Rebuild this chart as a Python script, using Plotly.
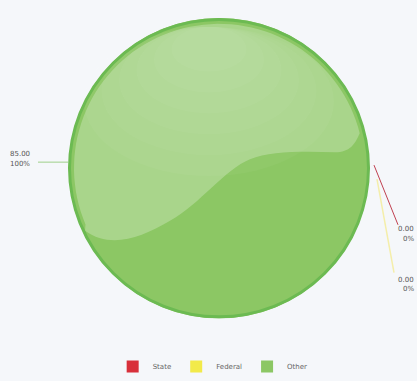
import numpy as np
import plotly.graph_objects as go

labels = ["State", "Federal", "Other"]
values = [0.0, 0.0, 85.0]
pct_text = ["0%", "0%", "100%"]
colors = ["#d8303a", "#f2ea4a", "#8cc764"]

W, H = 417, 381
cx, cy, r = 219, 169, 151

fig = go.Figure()
fig.add_trace(go.Pie(
    labels=labels, values=values, sort=False, direction="clockwise", rotation=90,
    marker=dict(colors=colors, line=dict(width=0)),
    textinfo="none", hoverinfo="label+value+percent",
    domain=dict(x=[(cx - r) / W, (cx + r) / W], y=[1 - (cy + r) / H, 1 - (cy - r) / H]),
    showlegend=True,
))
fig.update_xaxes(range=[0, W], visible=False, domain=[0, 1])
fig.update_yaxes(range=[H, 0], visible=False, domain=[0, 1])

# gloss highlight path (upper-left region)
ri = r - 6
ang = np.deg2rad(np.linspace(203, 14, 70))
arc = [(cx + ri * np.cos(a), cy - ri * np.sin(a)) for a in ang]
path = "M {:.1f},{:.1f} ".format(*arc[0]) + " ".join("L {:.1f},{:.1f}".format(x, y) for x, y in arc[1:])
path += " C 355,145 350,153 335,153 C 300,152 270,152 250,160 C 225,170 200,205 170,222 C 140,240 110,250 85,232 Z"
fig.add_shape(type="path", path=path, xref="x", yref="y", fillcolor="rgba(255,255,255,0.25)",
              line=dict(width=0), layer="above")
# soft glow toward the top of the highlight (stacked faint ellipses)
for k in range(6):
    s = 1 - k * 0.14
    fig.add_shape(type="circle", xref="x", yref="y",
                  x0=cx - 10 - 125 * s, x1=cx - 10 + 125 * s,
                  y0=cy - 142, y1=cy - 142 + 150 * s,
                  fillcolor="rgba(255,255,255,0.035)", line=dict(width=0), layer="above")
# rim
fig.add_shape(type="circle", xref="x", yref="y", x0=cx - r + 1.5, x1=cx + r - 1.5, y0=cy - r + 1.5, y1=cy + r - 1.5,
              line=dict(color="#6cba52", width=3), layer="above")

# value labels with leader lines
fnt = dict(family="DejaVu Sans", size=7, color="#555555")
fig.add_shape(type="line", xref="x", yref="y", x0=38, y0=163, x1=cx - r, y1=163,
              line=dict(color="#9ed08a", width=1))
fig.add_annotation(x=8, y=155, xref="x", yref="y", text="%.2f" % values[2], showarrow=False,
                   xanchor="left", font=fnt)
fig.add_annotation(x=8, y=165, xref="x", yref="y", text=pct_text[2], showarrow=False,
                   xanchor="left", font=fnt)
fig.add_shape(type="line", xref="x", yref="y", x0=374, y0=166, x1=398, y1=226,
              line=dict(color="#c04050", width=1))
fig.add_annotation(x=416, y=230, xref="x", yref="y", text="%.2f" % values[0], showarrow=False,
                   xanchor="right", font=fnt)
fig.add_annotation(x=416, y=240, xref="x", yref="y", text=pct_text[0], showarrow=False,
                   xanchor="right", font=fnt)
fig.add_shape(type="line", xref="x", yref="y", x0=377, y0=180, x1=394, y1=274,
              line=dict(color="#f4eeaa", width=1.5))
fig.add_annotation(x=416, y=281, xref="x", yref="y", text="%.2f" % values[1], showarrow=False,
                   xanchor="right", font=fnt)
fig.add_annotation(x=416, y=291, xref="x", yref="y", text=pct_text[1], showarrow=False,
                   xanchor="right", font=fnt)

fig.update_layout(
    width=W, height=H, margin=dict(l=0, r=0, t=0, b=0),
    paper_bgcolor="#f5f7fa", plot_bgcolor="#f5f7fa",
    legend=dict(orientation="h", x=0.51, xanchor="center", y=-0.005, yanchor="bottom",
                font=dict(family="DejaVu Sans", size=7, color="#666666"), itemwidth=30,
                traceorder="normal"),
)
fig.write_html("out.html", config={"displayModeBar": False},
               post_script="document.body.style.margin='0';document.body.style.background='#f5f7fa';")
